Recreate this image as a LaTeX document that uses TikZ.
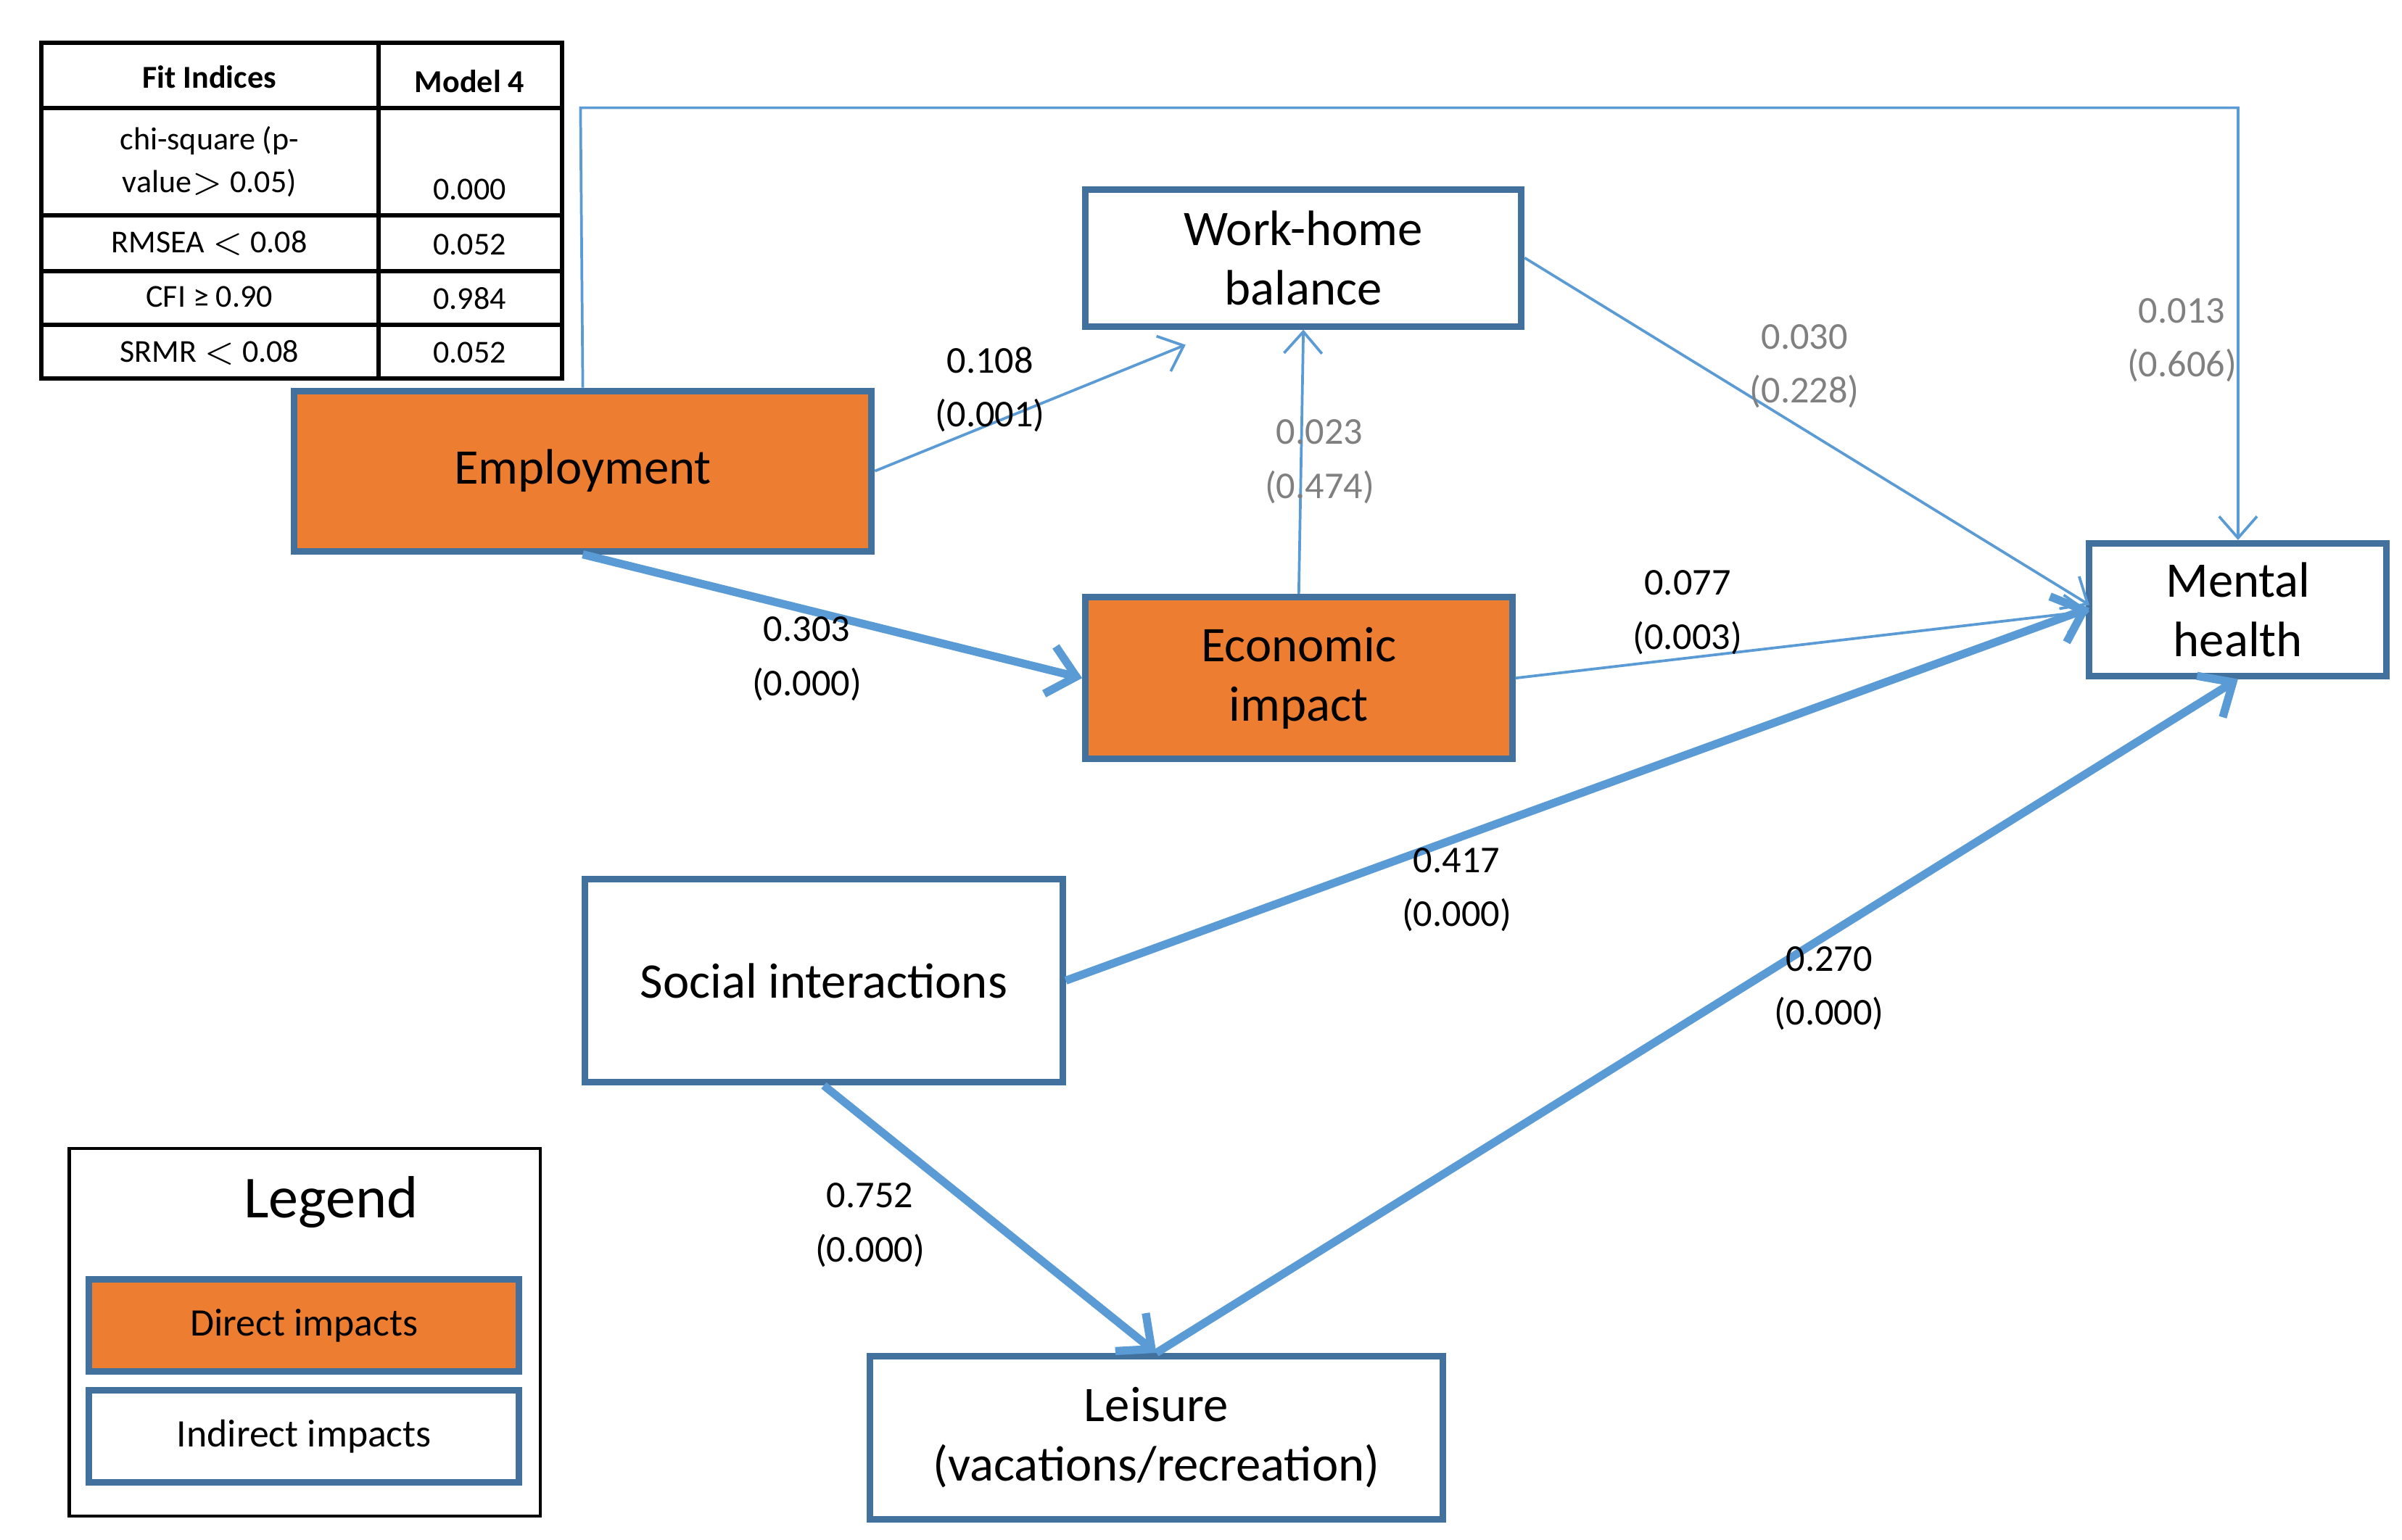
\documentclass[tikz,border=0pt]{standalone}
\usepackage{fontspec}
\setmainfont{Carlito}
\usetikzlibrary{arrows.meta}
\definecolor{org}{HTML}{ED7D31}
\definecolor{bdr}{HTML}{41719C}
\definecolor{ln}{HTML}{5B9BD5}
\begin{document}
\begin{tikzpicture}[x=0.01cm,y=-0.01cm,
 bx/.style={draw=bdr,line width=1.2pt,align=center,inner sep=0pt,font=\fontsize{9.2}{11}\selectfont},
 thin/.style={draw=ln,line width=0.5pt,-{Straight Barb[length=4pt,width=7pt]}},
 thick/.style={draw=ln,line width=1.5pt,-{Straight Barb[length=5pt,width=9pt]}},
 lab/.style={align=center,font=\fontsize{7}{10}\selectfont},
 glab/.style={lab,text=gray},
 tb/.style={align=center,font=\fontsize{5.9}{8}\selectfont}]
\useasboundingbox (0,0) rectangle (1560,1000);
% table
\draw[line width=0.8pt] (27,28) rectangle (365,246);
\foreach \y in {70,140,176,211} \draw[line width=0.8pt] (27,\y) -- (365,\y);
\draw[line width=0.8pt] (246,28) -- (246,246);
\node[tb,font=\fontsize{5.9}{8}\selectfont\bfseries] (h1) at (136,50) {Fit Indices};
\node[tb,font=\fontsize{5.9}{8}\selectfont\bfseries] (h2) at (305,53) {Model 4};
\node[tb] (r1a) at (136,105) {chi-square (p-\\value$>$ 0.05)};
\node[tb] (r1b) at (305,123) {0.000};
\node[tb] (r2a) at (136,158) {RMSEA $<$ 0.08};
\node[tb] (r2b) at (305,159) {0.052};
\node[tb] (r3a) at (136,193) {CFI ≥ 0.90};
\node[tb] (r3b) at (305,194) {0.984};
\node[tb] (r4a) at (136,229) {SRMR $<$ 0.08};
\node[tb] (r4b) at (305,229) {0.052};
% boxes
\node[bx,fill=org,minimum width=3.75cm,minimum height=1.04cm] (emp) at (378.5,306) {Employment};
\node[bx,fill=white,minimum width=2.83cm,minimum height=0.89cm] (wh) at (846.5,167.5) {Work-home\\balance};
\node[bx,fill=org,minimum width=2.77cm,minimum height=1.05cm] (eco) at (843.5,440.5) {Economic\\impact};
\node[bx,fill=white,minimum width=1.93cm,minimum height=0.86cm] (mh) at (1453.5,396) {Mental\\health};
\node[bx,fill=white,minimum width=3.10cm,minimum height=1.32cm] (soc) at (535,637) {Social interactions};
\node[bx,fill=white,minimum width=3.72cm,minimum height=1.06cm] (lei) at (751,934) {Leisure\\(vacations/recreation)};
% legend
\draw[line width=0.6pt] (45,746) rectangle (351,985);
\node[font=\fontsize{11}{13}\selectfont] (lg) at (215,781) {Legend};
\node[bx,fill=org,minimum width=2.79cm,minimum height=0.6cm,font=\fontsize{7.2}{9}\selectfont] (ld) at (197.5,861) {Direct impacts};
\node[bx,fill=white,minimum width=2.79cm,minimum height=0.6cm,font=\fontsize{7.2}{9}\selectfont] (li) at (197.5,933) {Indirect impacts};
% arrows
\draw[thin] (emp.north) -- (377,70) -| (mh.north);
\draw[thin] (emp.east) -- (770,224);
\draw[thick] (emp.south) -- (eco.west);
\draw[thin] (eco.north) -- (wh.south);
\draw[thin] (wh.east) -- (1357,393);
\draw[thin] (eco.east) -- (1357,397);
\draw[thick] (soc.east) -- (1357,395);
\draw[thick] (lei.north) -- (mh.south);
\draw[thick] (soc.south) -- (lei.north);
% labels
\node[lab] (l1) at (643,253) {0.108\\(0.001)};
\node[lab] (l2) at (524,428) {0.303\\(0.000)};
\node[glab] (l3) at (857,300) {0.023\\(0.474)};
\node[glab] (l4) at (1172,238) {0.030\\(0.228)};
\node[lab] (l5) at (1096,398) {0.077\\(0.003)};
\node[lab] (l6) at (946,578) {0.417\\(0.000)};
\node[lab] (l7) at (1188,642) {0.270\\(0.000)};
\node[lab] (l8) at (565,796) {0.752\\(0.000)};
\node[glab] (l9) at (1417,221) {0.013\\(0.606)};
\end{tikzpicture}
\end{document}
